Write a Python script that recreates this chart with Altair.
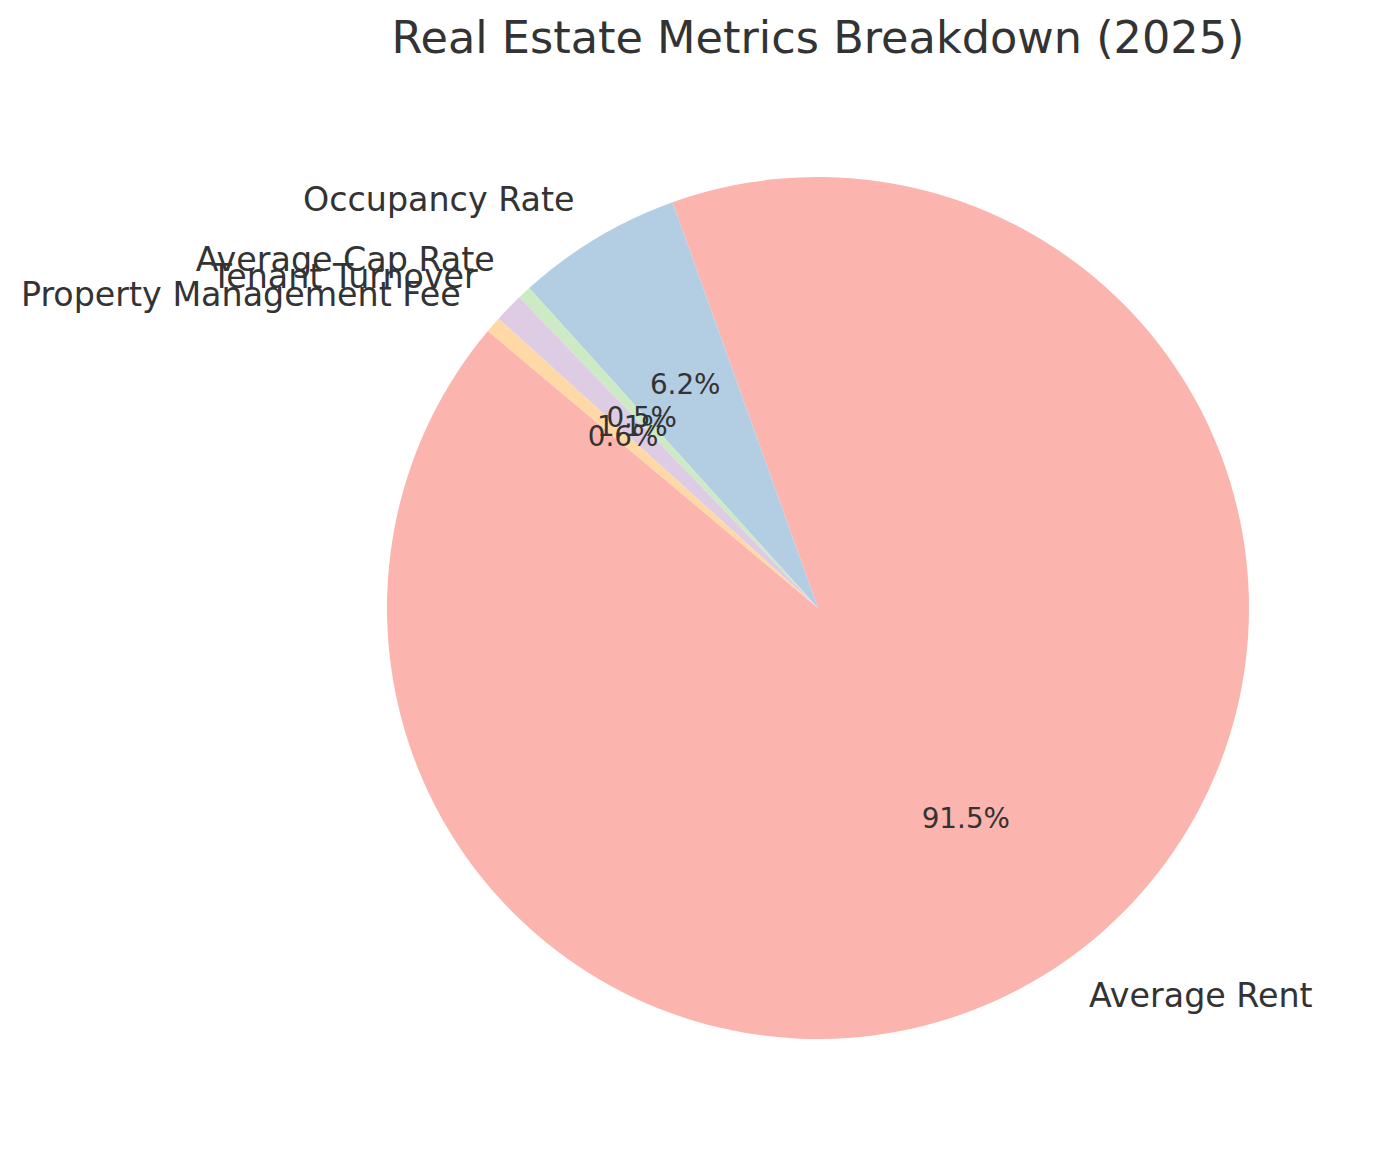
import math
import altair as alt
import pandas as pd

categories = ["Average Rent", "Occupancy Rate", "Average Cap Rate", "Tenant Turnover", "Property Management Fee"]
shares = [91.5, 6.2, 0.5, 1.1, 0.6]
pct_labels = ["91.5%", "6.2%", "0.5%", "1.1%", "0.6%"]
colors = ["#fbb4ae", "#b3cde3", "#ccebc5", "#decbe4", "#fed9a6"]

df = pd.DataFrame({
    "category": categories,
    "share": shares,
    "pct": pct_labels,
    "idx": list(range(len(categories))),
})
total = sum(shares)

# matplotlib startangle=140 counter-clockwise -> vega clockwise from 12 o'clock
a0 = math.radians(90 - 140)
a1 = a0 + 2 * math.pi

R = 431
FONT = "DejaVu Sans"
TXT = "#333333"

base = alt.Chart(df).transform_window(
    cum="sum(share)", sort=[alt.SortField("idx", order="descending")]
).transform_calculate(
    start="datum.cum - datum.share",
    mid="datum.cum - datum.share / 2",
).transform_calculate(
    ang=f"{a0} + datum.mid / {total} * {a1 - a0}",
).transform_calculate(
    side="sin(datum.ang) < 0 ? 'L' : 'R'"
)

theta_scale = alt.Scale(domain=[0, total], range=[a0, a1])

arcs = base.mark_arc(outerRadius=R, stroke=None).encode(
    theta=alt.Theta("start:Q", scale=theta_scale, stack=None),
    theta2=alt.Theta2("cum:Q"),
    color=alt.Color("category:N", scale=alt.Scale(domain=categories, range=colors), legend=None),
)

pct = base.mark_text(radius=0.6 * R, font=FONT, fontSize=27.8, color=TXT, align="center", baseline="middle").encode(
    theta=alt.Theta("mid:Q", scale=theta_scale, stack=None),
    text="pct:N",
)

lab_l = base.transform_filter("datum.side == 'L'").mark_text(
    radius=1.1 * R, font=FONT, fontSize=33.3, color=TXT, align="right", baseline="middle"
).encode(
    theta=alt.Theta("mid:Q", scale=theta_scale, stack=None),
    text="category:N",
)

lab_r = base.transform_filter("datum.side == 'R'").mark_text(
    radius=1.1 * R, font=FONT, fontSize=33.3, color=TXT, align="left", baseline="middle"
).encode(
    theta=alt.Theta("mid:Q", scale=theta_scale, stack=None),
    text="category:N",
)

chart = alt.layer(arcs, pct, lab_l, lab_r).properties(
    width=1102,
    height=1000,
    padding={"left": 259, "top": 100, "right": 0, "bottom": 0},
    autosize="none",
    title=alt.TitleParams(
        "Real Estate Metrics Breakdown (2025)",
        font=FONT, fontSize=44.6, fontWeight="normal", color=TXT, anchor="middle", offset=45,
    ),
).configure_view(stroke=None)

chart.save("out.html", embed_options={"renderer": "svg", "actions": False})
